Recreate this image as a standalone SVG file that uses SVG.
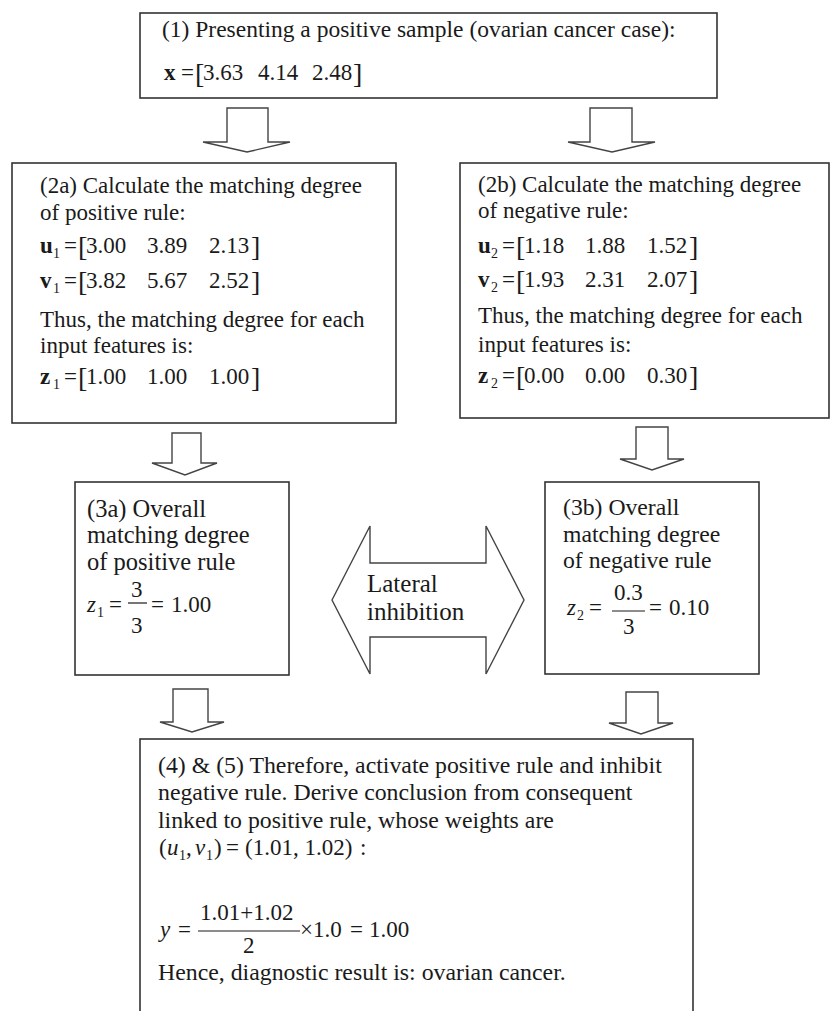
<svg xmlns="http://www.w3.org/2000/svg" width="831" height="1011" viewBox="0 0 831 1011">
<style>
text{font-family:"Liberation Serif","Times New Roman",serif;fill:#1a1a1a;}
.box{fill:#fff;stroke:#333;stroke-width:1.6;}
.arr{fill:#fff;stroke:#444;stroke-width:1.4;stroke-linejoin:miter;}
.b{font-weight:bold;}
.i{font-style:italic;}
.sub{font-size:14px;}
.br{font-size:28px;}
.bar{stroke:#1a1a1a;stroke-width:1.2;}
</style>
<rect width="831" height="1011" fill="#fff"/>
<g id="connectors">
<polygon class="arr" points="227,108 268,108 268,142 290,142 247,152 203,142 227,142"/>
<polygon class="arr" points="590,108 632,108 632,142 655,142 612,152 568,142 590,142"/>
<polygon class="arr" points="172,433 201,433 201,463 217,463 185,475 152,463 172,463"/>
<polygon class="arr" points="636,427 668,427 668,459 684,459 652,470 620,459 636,459"/>
<polygon class="arr" points="173,689 208,689 208,722 224,722 192,732 160,722 173,722"/>
<polygon class="arr" points="626,692 658,692 658,723 673,723 641,734 609,723 626,723"/>
</g>
<g id="n1">
<rect class="box" x="140" y="13" width="577" height="85"/>
<text x="162" y="37" font-size="23.5">(1) Presenting a positive sample (ovarian cancer case):</text>
<g font-size="23">
<text x="164" y="80" class="b">x</text><text x="181" y="80">=</text><text x="195" y="83" class="br">[</text>
<text x="203" y="80">3.63</text><text x="258" y="80">4.14</text><text x="312" y="80">2.48</text><text x="353" y="83" class="br">]</text>
</g>
</g>
<g id="n2a" font-size="23">
<rect class="box" x="12" y="163" width="384" height="260"/>
<text x="40" y="193">(2a) Calculate the matching degree</text>
<text x="40" y="220">of positive rule:</text>
<text x="40" y="253" class="b">u</text><text x="53" y="258" class="sub">1</text><text x="64" y="253">=</text><text x="78" y="256" class="br">[</text>
<text x="86" y="253">3.00</text><text x="147" y="253">3.89</text><text x="209" y="253">2.13</text><text x="251" y="256" class="br">]</text>
<text x="40" y="288" class="b">v</text><text x="53" y="293" class="sub">1</text><text x="64" y="288">=</text><text x="78" y="291" class="br">[</text>
<text x="86" y="288">3.82</text><text x="147" y="288">5.67</text><text x="209" y="288">2.52</text><text x="251" y="291" class="br">]</text>
<text x="40" y="327">Thus, the matching degree for each</text>
<text x="40" y="353">input features is:</text>
<text x="40" y="384" class="b">z</text><text x="53" y="389" class="sub">1</text><text x="64" y="384">=</text><text x="78" y="387" class="br">[</text>
<text x="86" y="384">1.00</text><text x="147" y="384">1.00</text><text x="209" y="384">1.00</text><text x="251" y="387" class="br">]</text>
</g>
<g id="n2b" font-size="23">
<rect class="box" x="460" y="163" width="369" height="255"/>
<text x="478" y="192">(2b) Calculate the matching degree</text>
<text x="478" y="218">of negative rule:</text>
<text x="478" y="253" class="b">u</text><text x="491" y="258" class="sub">2</text><text x="502" y="253">=</text><text x="516" y="256" class="br">[</text>
<text x="524" y="253">1.18</text><text x="585" y="253">1.88</text><text x="647" y="253">1.52</text><text x="689" y="256" class="br">]</text>
<text x="478" y="287" class="b">v</text><text x="491" y="292" class="sub">2</text><text x="502" y="287">=</text><text x="516" y="290" class="br">[</text>
<text x="524" y="287">1.93</text><text x="585" y="287">2.31</text><text x="647" y="287">2.07</text><text x="689" y="290" class="br">]</text>
<text x="478" y="323">Thus, the matching degree for each</text>
<text x="478" y="352">input features is:</text>
<text x="478" y="383" class="b">z</text><text x="491" y="388" class="sub">2</text><text x="502" y="383">=</text><text x="516" y="386" class="br">[</text>
<text x="524" y="383">0.00</text><text x="585" y="383">0.00</text><text x="647" y="383">0.30</text><text x="689" y="386" class="br">]</text>
</g>
<g id="n3a" font-size="24.5">
<rect class="box" x="75" y="482" width="214" height="193"/>
<text x="87" y="517">(3a) Overall</text>
<text x="87" y="543">matching degree</text>
<text x="87" y="570">of positive rule</text>
<text x="87" y="612" class="i" font-size="23">z</text><text x="97" y="617" class="sub">1</text>
<text x="109" y="612" font-size="23">=</text>
<text x="131" y="597" font-size="23">3</text>
<line class="bar" x1="128" y1="603" x2="147" y2="603"/>
<text x="131" y="633" font-size="23">3</text>
<text x="151" y="612" font-size="23">=</text>
<text x="171" y="612" font-size="23">1.00</text>
</g>
<g id="n_lateral">
<polygon class="arr" points="332,600 370,526 370,563 486,563 486,526 524,600 486,674 486,637 370,637 370,674"/>
<text x="367" y="592" font-size="25">Lateral</text>
<text x="367" y="620" font-size="25">inhibition</text>
</g>
<g id="n3b" font-size="23.7">
<rect class="box" x="545" y="482" width="214" height="192"/>
<text x="563" y="515">(3b) Overall</text>
<text x="563" y="542">matching degree</text>
<text x="563" y="568">of negative rule</text>
<text x="567" y="615" class="i" font-size="23">z</text><text x="577" y="620" class="sub">2</text>
<text x="589" y="615" font-size="23">=</text>
<text x="614" y="600" font-size="23">0.3</text>
<line class="bar" x1="612" y1="611" x2="645" y2="611"/>
<text x="623" y="634" font-size="23">3</text>
<text x="649" y="615" font-size="23">=</text>
<text x="669" y="615" font-size="23">0.10</text>
</g>
<g id="n4" font-size="23.8">
<rect class="box" x="140" y="739" width="553" height="290"/>
<text x="158" y="773">(4) &amp; (5) Therefore, activate positive rule and inhibit</text>
<text x="158" y="800">negative rule. Derive conclusion from consequent</text>
<text x="158" y="828">linked to positive rule, whose weights are</text>
<g font-size="23">
<text x="159" y="855">(</text><text x="167" y="855" class="i">u</text><text x="179" y="860" class="sub">1</text><text x="186" y="855">,</text>
<text x="195" y="855" class="i">v</text><text x="206" y="860" class="sub">1</text><text x="214" y="855">)</text>
<text x="226" y="855">=</text><text x="245" y="855">(1.01,  1.02)</text><text x="360" y="855">:</text>
<text x="160" y="937" class="i">y</text><text x="178" y="937">=</text>
<text x="200" y="920">1.01+1.02</text>
<line class="bar" x1="198" y1="931" x2="300" y2="931"/>
<text x="243" y="953">2</text>
<text x="300" y="937">×1.0</text><text x="350" y="937">=</text><text x="369" y="937">1.00</text>
</g>
<text x="158" y="980">Hence, diagnostic result is: ovarian cancer.</text>
</g>
</svg>
